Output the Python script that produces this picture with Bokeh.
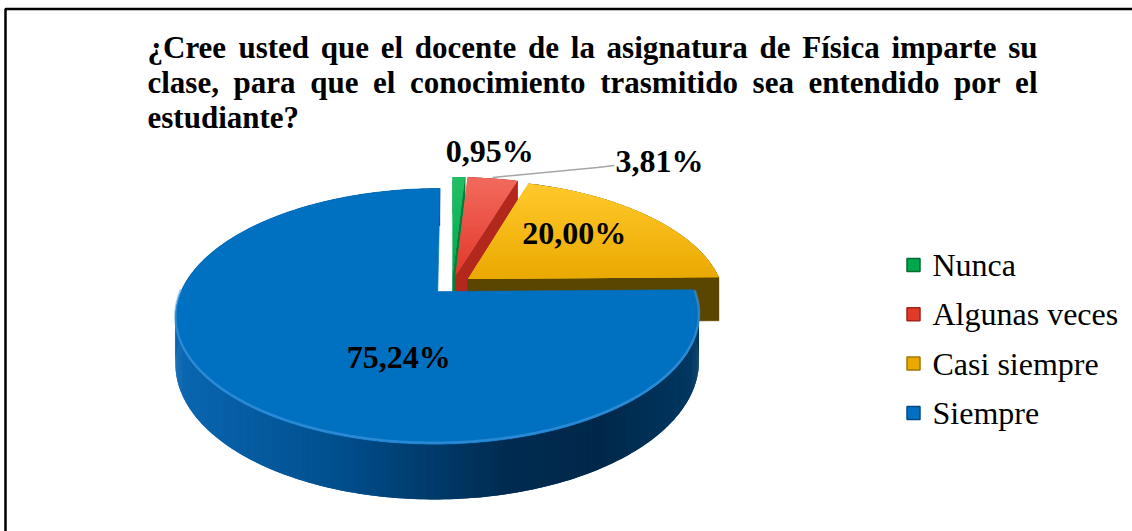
import numpy as np
from bokeh.plotting import figure
from bokeh.models import Range1d
from bokeh.core.properties import value
from bokeh.embed import file_html
from bokeh.resources import INLINE

# ---------------- data ----------------
categories = ["Nunca", "Algunas veces", "Casi siempre", "Siempre"]
percentages = [0.95, 3.81, 20.00, 75.24]
value_labels = ["0,95%", "3,81%", "20,00%", "75,24%"]
title_lines = [
    "¿Cree usted que el docente de la asignatura de Física imparte su",
    "clase, para que el conocimiento trasmitido sea entendido por el",
    "estudiante?",
]

# ---------------- style ----------------
top_light = ["#22c066", "#f26a5c", "#ffc92c", "#0070c0"]
top_dark = ["#00a84c", "#e2392b", "#eba900", "#0070c0"]
cut_colors = ["#00803c", "#b3281d", "#5a4600", "#00457a"]
legend_edge = ["#006a30", "#a02418", "#a07800", "#004a85"]
blue_wall_stops = [(0.0, "#0a66b0"), (0.3, "#004e8c"), (0.6, "#002b50"),
                   (0.78, "#00284a"), (1.0, "#003c68")]
SERIF = "Liberation Serif"

W, H = 1132, 531

# pie geometry (layout)
CX, CY = 451.5, 284.2
A_AX, B_AX, PERSP = 254.0, 120.4, 0.192
DEPTH = 44.0
EXPLODE = 0.079

label_radius = [1.43, 1.64, 0.70, 0.57]
label_turn = [5.9, 28.1, -4.6, -25.3]


def proj(u, v):
    d = 1.0 + PERSP * np.asarray(v)
    return CX + A_AX * np.asarray(u) / d, CY - B_AX * np.asarray(v) / d


def depth(v):
    return DEPTH / (1.0 + PERSP * np.asarray(v))


def hex2rgb(h):
    return np.array([int(h[i:i + 2], 16) for i in (1, 3, 5)], dtype=float)


def rgb2hex(c):
    c = np.clip(np.round(c), 0, 255).astype(int)
    return "#%02x%02x%02x" % tuple(c)


def mix(c1, c2, t):
    return rgb2hex(hex2rgb(c1) * (1 - t) + hex2rgb(c2) * t)


def grad(stops, t):
    t = min(max(t, 0.0), 1.0)
    for (p0, c0), (p1, c1) in zip(stops[:-1], stops[1:]):
        if t <= p1:
            return mix(c0, c1, (t - p0) / (p1 - p0) if p1 > p0 else 0)
    return stops[-1][1]


def clip_band(xs, ys, y0, y1):
    def clip(pts, keep, yc):
        out = []
        for i in range(len(pts)):
            cur, prev = pts[i], pts[i - 1]
            ci, pi = keep(cur), keep(prev)
            if ci:
                if not pi:
                    t = (yc - prev[1]) / (cur[1] - prev[1])
                    out.append((prev[0] + t * (cur[0] - prev[0]), yc))
                out.append(cur)
            elif pi:
                t = (yc - prev[1]) / (cur[1] - prev[1])
                out.append((prev[0] + t * (cur[0] - prev[0]), yc))
        return out
    pts = list(zip(xs, ys))
    pts = clip(pts, lambda q: q[1] >= y0, y0)
    if pts:
        pts = clip(pts, lambda q: q[1] <= y1, y1)
    return pts


def gradient_patches(p, xs, ys, c_top, c_bot, nb=24):
    ys = list(ys)
    ymin, ymax = min(ys), max(ys)
    if c_top == c_bot:
        p.patch(list(xs), ys, fill_color=c_top, line_color=c_top, line_width=0.6)
        return
    px, py, cols = [], [], []
    edges = np.linspace(ymin, ymax, nb + 1)
    for k in range(nb):
        hi = edges[min(k + 2, nb)]  # overlap bands to hide seams
        pts = clip_band(list(xs), ys, edges[k], hi)
        if len(pts) >= 3:
            px.append([q[0] for q in pts])
            py.append([q[1] for q in pts])
            cols.append(mix(c_top, c_bot, (k + 0.5) / nb))
    p.patches(px, py, fill_color=cols, line_color=None)


p = figure(width=W, height=H, x_range=Range1d(0, W), y_range=Range1d(H, 0),
           output_backend="svg", toolbar_location=None, min_border=0,
           x_axis_location=None, y_axis_location=None)
p.grid.visible = False
p.outline_line_color = None
p.background_fill_color = "white"

# chart border (left and top edges visible)
p.line([5, 5, W], [H, 8.5, 8.5], line_color="black", line_width=2.5)

# ---------------- pie ----------------
total = float(sum(percentages))
bounds = np.concatenate([[0.0], np.cumsum(percentages)]) / total * 360.0
slices = []
for i in range(len(percentages)):
    a0, a1 = bounds[i], bounds[i + 1]
    mid = 0.5 * (a0 + a1)
    du, dv = EXPLODE * np.sin(np.radians(mid)), EXPLODE * np.cos(np.radians(mid))
    slices.append((i, a0, a1, mid, du, dv))

order = sorted(slices, key=lambda s: -np.cos(np.radians(s[3])))  # far slices first
xmin_all, xmax_all = CX - A_AX * 1.05, CX + A_AX * 1.05

for (i, a0, a1, mid, du, dv) in order:
    n = max(6, int((a1 - a0) * 2))
    th = np.radians(np.linspace(a0, a1, n))
    u = np.sin(th) + du
    v = np.cos(th) + dv
    tx, ty = proj(u, v)
    by = ty + depth(v)
    vx, vy = proj(du, dv)
    vby = vy + depth(dv)

    # outer wall strips (overlapping), far first
    sx, sy, sc, sv = [], [], [], []
    for k in range(n - 1):
        k2 = min(k + 2, n - 1)
        sx.append([tx[k], tx[k2], tx[k2], tx[k]])
        sy.append([ty[k], ty[k2], by[k2], by[k]])
        xm = 0.5 * (tx[k] + tx[k + 1])
        if i == 3:
            sc.append(grad(blue_wall_stops, (xm - xmin_all) / (xmax_all - xmin_all)))
        else:
            sc.append(cut_colors[i])
        sv.append(0.5 * (v[k] + v[k + 1]))
    idx = np.argsort(-np.array(sv), kind="stable")
    p.patches([sx[j] for j in idx], [sy[j] for j in idx],
              fill_color=[sc[j] for j in idx], line_color=None)

    # visible radial cut faces
    if np.sin(np.radians(a1)) > 0.01:
        p.patch([vx, tx[-1], tx[-1], vx], [vy, ty[-1], by[-1], vby],
                fill_color=cut_colors[i], line_color=cut_colors[i], line_width=0.6)
    if np.sin(np.radians(a0)) < -0.01:
        p.patch([vx, tx[0], tx[0], vx], [vy, ty[0], by[0], vby],
                fill_color=cut_colors[i], line_color=cut_colors[i], line_width=0.6)

    # top face
    fx = [vx] + list(tx)
    fy = [vy] + list(ty)
    gradient_patches(p, fx, fy, top_light[i], top_dark[i])

    if i == 3:
        # light bevel rim along the front edge of the big slice
        sel = np.cos(th) + dv < -0.05
        p.line(tx[sel], ty[sel] - 1.5, line_color="#4d9fe3", line_width=2.5, line_alpha=0.55)

# ---------------- value labels ----------------
lx, ly = [], []
for (i, a0, a1, mid, du, dv) in slices:
    ang = np.radians(mid + label_turn[i])
    r = label_radius[i]
    x, y = proj(r * np.sin(ang), r * np.cos(ang))
    lx.append(float(x))
    ly.append(float(y))

p.text(lx, ly, text=value_labels, text_font=value(SERIF), text_font_style="bold",
       text_font_size="32px", text_color="black", text_align="center",
       text_baseline="middle")

# leader line for the small red slice
(_, a0r, a1r, midr, dur, dvr) = slices[1]
sx0, sy0 = proj(np.sin(np.radians(midr)) + dur, np.cos(np.radians(midr)) + dvr)
p.line([float(sx0), lx[1] - 62, lx[1] - 45], [float(sy0) - 1, ly[1] + 7, ly[1] + 5],
       line_color="#a6a6a6", line_width=1.5)

# ---------------- title (justified lines) ----------------
TB = {' ': 250, ',': 250, '.': 250, '?': 500, '¿': 500, 'a': 500, 'b': 556, 'c': 444,
      'd': 556, 'e': 444, 'f': 333, 'g': 500, 'h': 556, 'i': 278, 'j': 333, 'k': 556,
      'l': 278, 'm': 833, 'n': 556, 'o': 500, 'p': 556, 'q': 556, 'r': 444, 's': 389,
      't': 333, 'u': 556, 'v': 500, 'w': 722, 'x': 500, 'y': 500, 'z': 444, 'C': 722,
      'F': 611, 'í': 278}
TFS = 31.0
TX0, TX1 = 147.0, 1037.0
TMID = [46.5, 82.0, 117.0]
wx, wy, wt = [], [], []
for li, line in enumerate(title_lines):
    words = line.split(" ")
    widths = [sum(TB.get(ch, 500) for ch in w) / 1000.0 * TFS for w in words]
    if li < len(title_lines) - 1 and len(words) > 1:
        gap = (TX1 - TX0 - sum(widths)) / (len(words) - 1)
    else:
        gap = 0.25 * TFS
    x = TX0
    for w, wd in zip(words, widths):
        wx.append(x)
        wy.append(TMID[li])
        wt.append(w)
        x += wd + gap
p.text(wx, wy, text=wt, text_font=value(SERIF), text_font_style="bold",
       text_font_size="%dpx" % TFS, text_color="black", text_align="left",
       text_baseline="middle")

# ---------------- legend ----------------
LEG_X, LEG_TX = 913, 932
leg_y = [264.5 + 49.3 * k for k in range(len(categories))]
p.scatter([LEG_X] * len(categories), leg_y, marker="square", size=13,
          fill_color=top_dark, line_color=legend_edge, line_width=1.5)
p.text([LEG_TX] * len(categories), leg_y, text=categories,
       text_font=value(SERIF), text_font_size="32px", text_color="black",
       text_align="left", text_baseline="middle")

open("out.html", "w").write(file_html(p, INLINE))
